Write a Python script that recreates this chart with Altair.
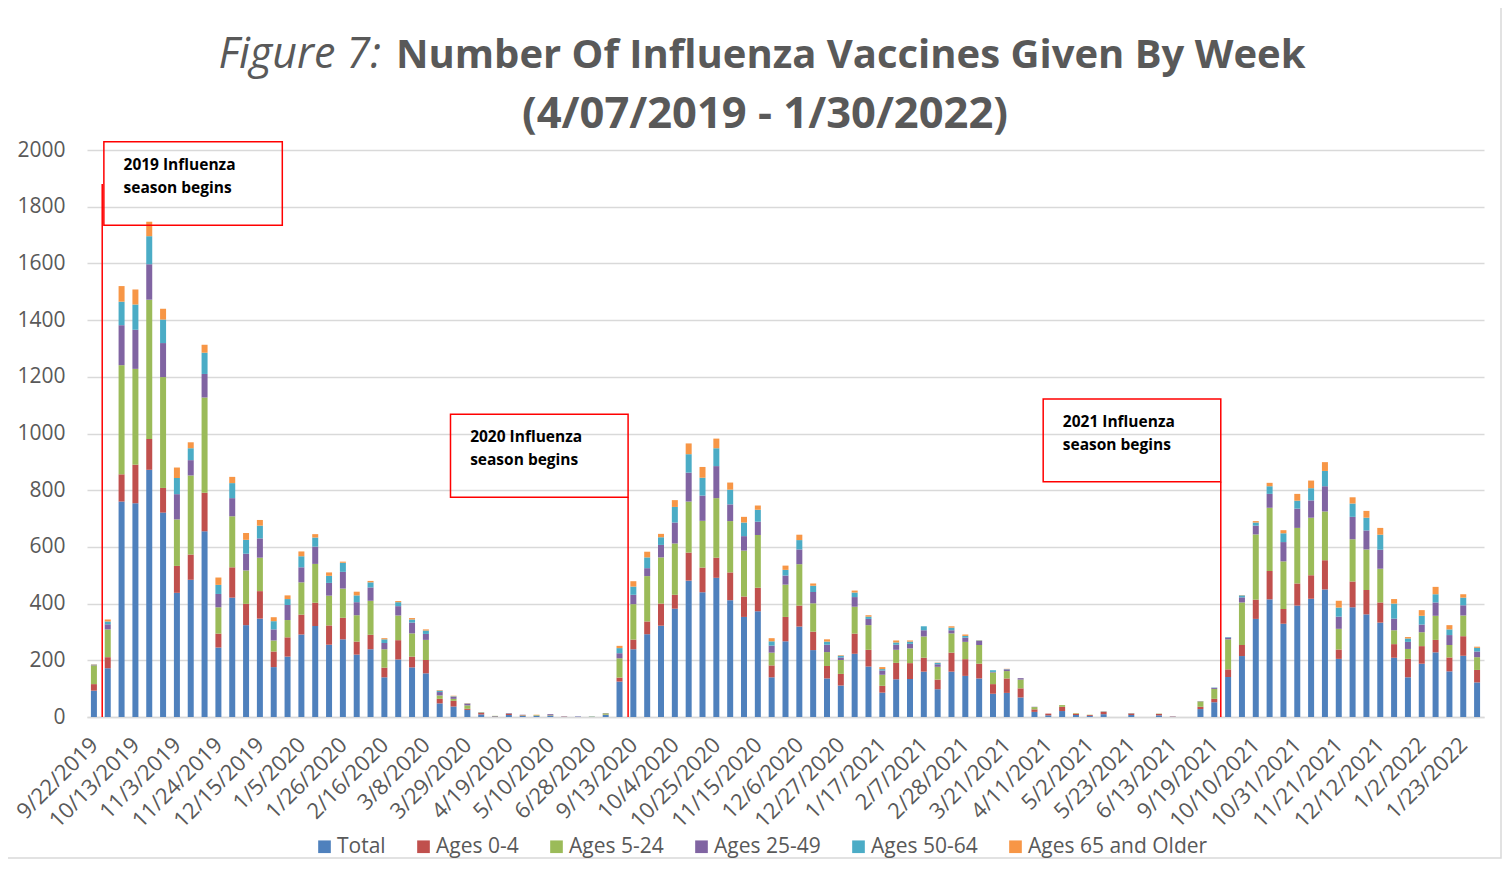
import altair as alt
import pandas as pd

weeks = [
    "9/22/2019", "9/29/2019", "10/6/2019", "10/13/2019", "10/20/2019", "10/27/2019",
    "11/3/2019", "11/10/2019", "11/17/2019", "11/24/2019", "12/1/2019", "12/8/2019",
    "12/15/2019", "12/22/2019", "12/29/2019", "1/5/2020", "1/12/2020", "1/19/2020",
    "1/26/2020", "2/2/2020", "2/9/2020", "2/16/2020", "2/23/2020", "3/1/2020",
    "3/8/2020", "3/15/2020", "3/22/2020", "3/29/2020", "4/5/2020", "4/12/2020",
    "4/19/2020", "4/26/2020", "5/3/2020", "5/10/2020", "5/17/2020", "5/31/2020",
    "6/28/2020", "8/30/2020", "9/6/2020", "9/13/2020", "9/20/2020", "9/27/2020",
    "10/4/2020", "10/11/2020", "10/18/2020", "10/25/2020", "11/1/2020", "11/8/2020",
    "11/15/2020", "11/22/2020", "11/29/2020", "12/6/2020", "12/13/2020", "12/20/2020",
    "12/27/2020", "1/3/2021", "1/10/2021", "1/17/2021", "1/24/2021", "1/31/2021",
    "2/7/2021", "2/14/2021", "2/21/2021", "2/28/2021", "3/7/2021", "3/14/2021",
    "3/21/2021", "3/28/2021", "4/4/2021", "4/11/2021", "4/18/2021", "4/25/2021",
    "5/2/2021", "5/9/2021", "5/16/2021", "5/23/2021", "5/30/2021", "6/6/2021",
    "6/13/2021", "9/5/2021", "9/12/2021", "9/19/2021", "9/26/2021", "10/3/2021",
    "10/10/2021", "10/17/2021", "10/24/2021", "10/31/2021", "11/7/2021", "11/14/2021",
    "11/21/2021", "11/28/2021", "12/5/2021", "12/12/2021", "12/19/2021", "12/26/2021",
    "1/2/2022", "1/9/2022", "1/16/2022", "1/23/2022", "1/30/2022",
]

total = [
    93, 172, 760, 754, 872, 721, 438, 484, 655, 245, 421, 324, 347, 176, 213, 291, 321, 255,
    274, 220, 239, 140, 203, 175, 154, 48, 37, 25, 9, 2, 7, 4, 4, 5, 1, 1, 1, 7,
    125, 239, 292, 322, 382, 481, 440, 491, 412, 353, 373, 140, 267, 319, 236, 136,
    111, 223, 178, 86, 133, 134, 160, 98, 160, 145, 136, 82, 85, 69, 18, 6, 21, 7, 4, 10,
    0, 7, 0, 6, 1, 0, 28, 52,
    141, 215, 346, 415, 329, 393, 417, 450, 205, 387, 362, 333, 209, 140, 188, 228, 161, 216, 122,
]
ages_0_4 = [
    23, 39, 96, 136, 109, 87, 95, 89, 136, 49, 107, 75, 97, 55, 68, 70, 82, 68,
    76, 46, 51, 34, 68, 38, 47, 16, 20, 4, 5, 1, 4, 2, 1, 1, 1, 0, 0, 1,
    14, 34, 45, 78, 49, 99, 87, 71, 98, 72, 83, 42, 86, 74, 65, 44,
    41, 71, 59, 24, 58, 56, 49, 34, 67, 59, 52, 34, 51, 32, 9, 6, 15, 4, 3, 8,
    0, 5, 0, 5, 1, 0, 8, 12,
    27, 39, 68, 100, 52, 78, 83, 103, 33, 91, 86, 71, 48, 65, 62, 44, 49, 69, 44,
]
ages_5_24 = [
    66, 98, 385, 338, 491, 391, 164, 279, 336, 93, 180, 118, 118, 39, 61, 114, 137, 105,
    103, 93, 120, 65, 87, 82, 71, 12, 7, 12, 2, 1, 1, 1, 2, 1, 0, 0, 1, 5,
    68, 125, 160, 163, 181, 180, 165, 210, 181, 162, 186, 45, 114, 146, 100, 49,
    49, 95, 87, 39, 46, 52, 75, 45, 68, 61, 66, 41, 26, 31, 8, 0, 6, 2, 1, 1,
    0, 1, 0, 1, 0, 0, 19, 35,
    106, 150, 230, 223, 168, 196, 203, 172, 73, 149, 143, 119, 49, 35, 49, 85, 44, 73, 45,
]
ages_25_49 = [
    2, 18, 141, 138, 125, 120, 89, 54, 83, 47, 64, 59, 68, 39, 53, 53, 61, 45,
    59, 46, 47, 22, 33, 38, 21, 12, 7, 6, 1, 0, 2, 1, 0, 3, 0, 1, 0, 1,
    18, 33, 28, 44, 74, 102, 89, 113, 59, 51, 47, 25, 32, 52, 40, 26,
    9, 34, 22, 15, 18, 16, 22, 9, 11, 15, 14, 2, 6, 5, 1, 0, 0, 0, 0, 1,
    0, 1, 0, 0, 0, 0, 1, 4,
    6, 18, 31, 49, 68, 68, 61, 89, 43, 79, 67, 67, 41, 25, 27, 47, 35, 36, 20,
]
ages_50_64 = [
    1, 10, 83, 89, 99, 83, 57, 42, 75, 32, 53, 49, 45, 29, 21, 39, 32, 25,
    32, 24, 18, 13, 14, 11, 12, 5, 2, 1, 0, 0, 0, 0, 0, 0, 0, 0, 0, 0,
    18, 29, 38, 27, 55, 65, 63, 63, 52, 48, 42, 15, 20, 33, 22, 11,
    6, 16, 8, 5, 8, 8, 14, 5, 9, 6, 2, 6, 1, 0, 0, 0, 0, 0, 0, 0,
    0, 0, 0, 0, 0, 0, 0, 1,
    2, 7, 11, 27, 31, 28, 43, 54, 32, 47, 45, 53, 53, 12, 31, 29, 20, 27, 13,
]
ages_65_older = [
    1, 7, 55, 53, 51, 38, 37, 21, 28, 26, 22, 24, 20, 14, 13, 17, 12, 12,
    4, 13, 5, 4, 4, 5, 4, 2, 2, 1, 0, 0, 0, 0, 1, 0, 0, 0, 0, 0,
    8, 19, 20, 12, 24, 38, 38, 34, 25, 20, 15, 11, 15, 19, 8, 8,
    2, 7, 5, 7, 7, 4, 0, 1, 5, 5, 1, 0, 1, 0, 0, 0, 0, 1, 0, 0,
    0, 0, 0, 0, 0, 0, 0, 0,
    0, 1, 5, 12, 11, 24, 27, 31, 24, 22, 24, 24, 16, 5, 20, 26, 15, 12, 4,
]

series_names = ["Total", "Ages 0-4", "Ages 5-24", "Ages 25-49", "Ages 50-64", "Ages 65 and Older"]
series_values = [total, ages_0_4, ages_5_24, ages_25_49, ages_50_64, ages_65_older]
series_colors = ["#4F81BD", "#C0504D", "#9BBB59", "#8064A2", "#4BACC6", "#F79646"]

tick_labels = weeks[::3]

note_labels = ["2019 Influenza\nseason begins", "2020 Influenza\nseason begins", "2021 Influenza\nseason begins"]
note_line_x = [0.6, 38.62, 81.47]
note_line_top = [1880, 775, 830]
note_box_left = [0.72, 25.78, 68.63]
note_box_right = [13.62, 38.62, 81.47]
note_box_top = [2029, 1068, 1122]
note_box_bottom = [1735, 775, 830]

rows = []
for i, w in enumerate(weeks):
    for k, (name, vals) in enumerate(zip(series_names, series_values)):
        rows.append({"idx": i, "week": w, "series": name, "order": k, "value": vals[i]})
df = pd.DataFrame(rows)

notes = pd.DataFrame({
    "label": note_labels,
    "line_x": note_line_x,
    "line_bottom": [0, 0, 0],
    "line_top": note_line_top,
    "box_left": note_box_left,
    "box_right": note_box_right,
    "box_top": note_box_top,
    "box_bottom": note_box_bottom,
})
notes["text_x"] = notes["box_left"] + 1.42
notes["text_y"] = notes["box_top"] - 98

FONT = "Open Sans"
GREY = "#595959"
GRID = "#D9D9D9"
W, H = 1397, 567

label_expr = "[" + ",".join("'" + t + "'" for t in tick_labels) + "][round(datum.value/3)]"

x_scale = alt.Scale(domain=[-0.5, 100.5], nice=False, zero=False, padding=0)
y_scale = alt.Scale(domain=[0, 2000], nice=False)

bars = alt.Chart(df).mark_bar(size=6).encode(
    x=alt.X("idx:Q", scale=x_scale, title=None,
            axis=alt.Axis(values=list(range(0, 101, 3)), labelExpr=label_expr,
                          labelAngle=-45, labelAlign="right", labelBaseline="middle",
                          grid=False, ticks=False, domainColor=GRID, domainWidth=1.5,
                          labelFont=FONT, labelFontSize=22, labelColor=GREY,
                          labelPadding=24, labelOverlap=False, labelFlush=False)),
    y=alt.Y("value:Q", stack="zero", scale=y_scale, title=None,
            axis=alt.Axis(values=list(range(0, 2001, 200)), format="d", grid=True,
                          gridColor=GRID, gridWidth=1.5, domain=False, ticks=False,
                          labelFont=FONT, labelFontSize=21, labelColor=GREY, labelPadding=22)),
    color=alt.Color("series:N", scale=alt.Scale(domain=series_names, range=series_colors),
                    legend=alt.Legend(title=None, orient="none", direction="horizontal",
                                      legendX=227, legendY=686, symbolType="square",
                                      symbolSize=160, symbolStrokeWidth=0,
                                      labelFont=FONT, labelFontSize=21, labelColor=GREY,
                                      labelLimit=0, columnPadding=27, labelOffset=2)),
    order=alt.Order("order:Q", sort="ascending"),
)

rules = alt.Chart(notes).mark_rule(color="#FF0000", strokeWidth=1.5).encode(
    x=alt.X("line_x:Q", title=None), y=alt.Y("line_bottom:Q", title=None), y2="line_top:Q")

boxes = alt.Chart(notes).mark_rect(fillOpacity=0, stroke="#FF0000", strokeWidth=1.5).encode(
    x=alt.X("box_left:Q", title=None), x2="box_right:Q",
    y=alt.Y("box_top:Q", title=None), y2="box_bottom:Q")

texts = alt.Chart(notes).mark_text(align="left", baseline="alphabetic", font=FONT,
                                   fontSize=15.5, fontWeight="bold", color="#000000",
                                   lineBreak="\n", lineHeight=23).encode(
    x=alt.X("text_x:Q", title=None), y=alt.Y("text_y:Q", title=None), text="label:N")

t1 = alt.Chart(pd.DataFrame({"t": ["Figure 7:"]})).mark_text(
    align="right", baseline="alphabetic", font=FONT, fontSize=43, fontStyle="italic",
    color=GREY).encode(x=alt.value(294), y=alt.value(-82), text="t:N")
t2 = alt.Chart(pd.DataFrame({"t": ["Number Of Influenza Vaccines Given By Week"]})).mark_text(
    align="left", baseline="alphabetic", font=FONT, fontSize=40, fontWeight="bold",
    color=GREY).encode(x=alt.value(309), y=alt.value(-82), text="t:N")
t3 = alt.Chart(pd.DataFrame({"t": ["(4/07/2019 - 1/30/2022)"]})).mark_text(
    align="center", baseline="alphabetic", font=FONT, fontSize=43.5, fontWeight="bold",
    color=GREY).encode(x=alt.value(678), y=alt.value(-22), text="t:N")

border = alt.Chart(pd.DataFrame({"b": [0]})).mark_rect(
    fillOpacity=0, stroke=GRID, strokeWidth=1.5).encode(
    x=alt.value(-82), x2=alt.value(1414), y=alt.value(-147), y2=alt.value(708))

chart = alt.layer(border, bars, rules, boxes, texts, t1, t2, t3).properties(
    width=W, height=H,
    autosize=alt.AutoSizeParams(type="none"),
    padding={"left": 79, "top": 142, "right": 20, "bottom": 144},
).configure(font=FONT).configure_view(stroke=None, strokeWidth=0)

chart.save("out.html", embed_options={"renderer": "svg", "actions": False})
